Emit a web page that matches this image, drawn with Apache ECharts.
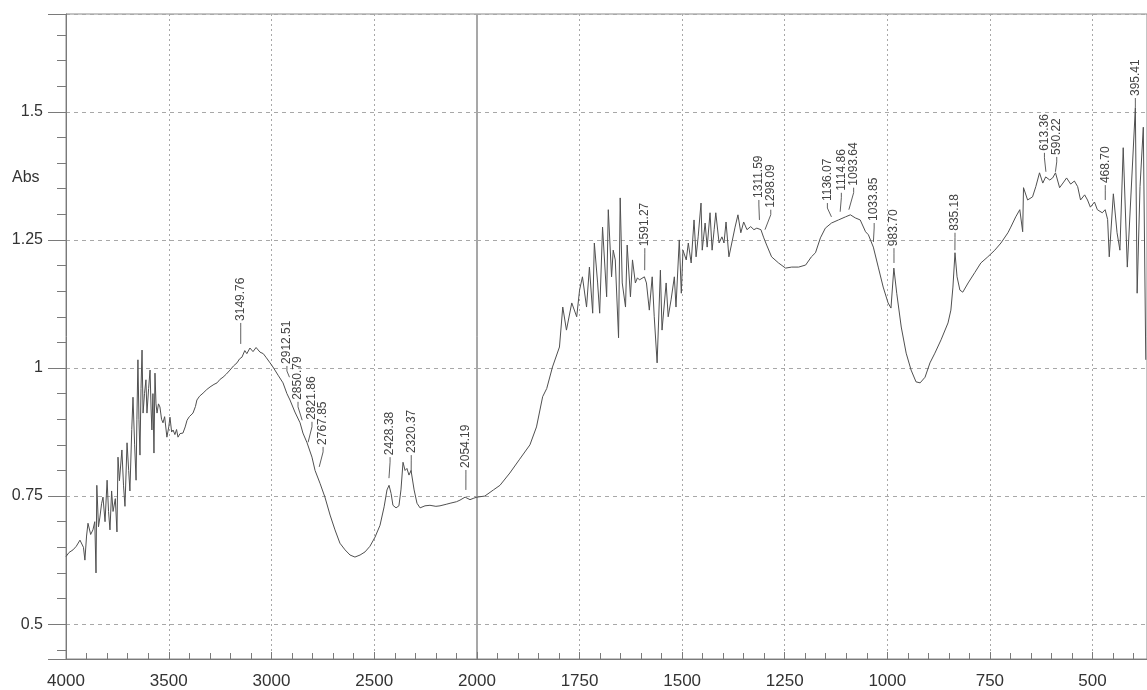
<!DOCTYPE html>
<html>
<head>
<meta charset="utf-8">
<script src="https://cdn.jsdelivr.net/npm/echarts@6/dist/echarts.min.js"></script>
<style>
html,body{margin:0;padding:0;background:#fff;}
#chart{width:1147px;height:690px;}
</style>
</head>
<body>
<div id="chart"></div>
<script>
// ---- Data ----
// High-wavenumber segment 4000 -> 2000 cm-1 (compressed half-scale)
const highWn = [4000,3997,3985,3966,3950,3932,3915,3908,3900,3893,3880,3869,3860,3854,3850,3842,3835,3827,3820,3810,3800,3793,3786,3778,3771,3760,3752,3747,3740,3728,3720,3713,3703,3695,3689,3680,3674,3666,3659,3655,3650,3645,3640,3635,3630,3625,3618,3611,3606,3598,3591,3586,3582,3577,3572,3567,3562,3557,3550,3543,3535,3528,3520,3509,3500,3494,3486,3479,3470,3462,3455,3445,3431,3420,3411,3400,3382,3370,3363,3350,3333,3315,3299,3280,3265,3250,3236,3220,3202,3185,3168,3155,3144,3130,3120,3105,3090,3075,3056,3040,3025,3007,2993,2968,2944,2925,2910,2886,2861,2847,2827,2803,2788,2764,2740,2715,2691,2667,2642,2618,2594,2569,2545,2521,2496,2472,2452,2438,2428,2418,2409,2394,2380,2370,2360,2350,2341,2331,2321,2306,2292,2277,2253,2229,2200,2180,2150,2131,2100,2083,2058,2034,2015,2000];
const highAbs = [0.632,0.631,0.640,0.645,0.652,0.664,0.650,0.625,0.672,0.697,0.675,0.684,0.700,0.600,0.771,0.690,0.709,0.735,0.748,0.700,0.781,0.720,0.684,0.760,0.720,0.745,0.680,0.826,0.780,0.840,0.770,0.730,0.854,0.800,0.760,0.880,0.943,0.850,0.781,0.900,1.016,0.900,0.830,0.960,1.035,0.912,0.950,0.977,0.912,0.960,0.996,0.920,0.879,0.950,0.834,0.990,0.930,0.912,0.930,0.924,0.900,0.893,0.905,0.865,0.885,0.904,0.875,0.879,0.870,0.880,0.865,0.872,0.873,0.885,0.898,0.905,0.912,0.925,0.9375,0.945,0.951,0.958,0.963,0.968,0.971,0.978,0.982,0.988,0.996,1.004,1.010,1.018,1.021,1.034,1.028,1.039,1.032,1.040,1.031,1.028,1.020,1.010,1.002,0.986,0.971,0.950,0.9375,0.914,0.893,0.873,0.854,0.826,0.800,0.775,0.748,0.713,0.684,0.658,0.645,0.635,0.631,0.635,0.641,0.652,0.670,0.693,0.729,0.762,0.771,0.755,0.732,0.727,0.731,0.762,0.816,0.800,0.804,0.791,0.800,0.762,0.736,0.727,0.731,0.732,0.730,0.731,0.734,0.736,0.739,0.742,0.748,0.743,0.746,0.748];

// Low-wavenumber segment 2000 -> ~370 cm-1 (full scale)
const lowWn = [2000,1981,1960,1944,1920,1896,1871,1855,1840,1830,1816,1799,1791,1782,1769,1757,1750,1743,1733,1726,1718,1714,1706,1701,1694,1684,1680,1672,1668,1663,1655,1651,1646,1638,1634,1626,1621,1614,1609,1604,1592,1587,1580,1573,1568,1561,1553,1549,1539,1534,1527,1519,1515,1507,1502,1498,1490,1485,1478,1471,1466,1461,1454,1451,1444,1439,1432,1427,1422,1418,1410,1403,1398,1393,1386,1379,1371,1364,1357,1350,1342,1333,1325,1318,1308,1301,1294,1282,1265,1248,1233,1216,1199,1185,1175,1163,1151,1136,1119,1102,1090,1078,1066,1053,1046,1034,1022,1010,998,991,984,977,966,954,942,930,920,908,896,884,869,852,845,840,835,830,823,816,803,787,772,755,738,723,706,699,687,677,670,668,658,646,638,629,621,614,604,597,590,580,570,563,553,544,536,529,519,512,505,495,488,476,469,463,459,449,440,433,425,415,395.4,391,384,376,370];
const lowAbs = [0.748,0.750,0.762,0.771,0.795,0.822,0.850,0.885,0.944,0.960,1.002,1.041,1.119,1.074,1.127,1.100,1.152,1.178,1.119,1.197,1.107,1.244,1.166,1.107,1.275,1.139,1.309,1.178,1.230,1.211,1.059,1.332,1.166,1.119,1.240,1.139,1.211,1.166,1.176,1.172,1.178,1.166,1.113,1.178,1.100,1.010,1.191,1.074,1.166,1.100,1.133,1.178,1.119,1.250,1.146,1.230,1.211,1.244,1.205,1.289,1.217,1.256,1.322,1.230,1.283,1.236,1.303,1.230,1.270,1.303,1.244,1.256,1.244,1.285,1.217,1.244,1.275,1.299,1.264,1.285,1.270,1.276,1.270,1.273,1.270,1.254,1.240,1.217,1.205,1.195,1.197,1.197,1.201,1.217,1.225,1.254,1.273,1.283,1.289,1.295,1.299,1.293,1.289,1.266,1.260,1.236,1.197,1.158,1.127,1.117,1.195,1.146,1.080,1.029,0.996,0.973,0.971,0.982,1.010,1.029,1.055,1.088,1.113,1.158,1.225,1.178,1.152,1.148,1.166,1.186,1.205,1.217,1.230,1.244,1.264,1.275,1.295,1.309,1.266,1.352,1.328,1.334,1.354,1.381,1.361,1.373,1.367,1.371,1.381,1.352,1.363,1.371,1.359,1.365,1.354,1.328,1.338,1.328,1.314,1.324,1.309,1.303,1.309,1.290,1.217,1.340,1.264,1.230,1.430,1.197,1.508,1.146,1.354,1.470,1.016];

// Peak annotations
const peakText = ['3149.76','2912.51','2850.79','2821.86','2767.85','2428.38','2320.37','2054.19','1591.27','1311.59','1298.09','1136.07','1114.86','1093.64','1033.85','983.70','835.18','613.36','590.22','468.70','395.41'];
const peakLabelWn = [3149.76,2925,2871,2803,2749,2423,2320,2054,1591,1313,1284,1146,1112,1082,1032,983.7,835,617,587,468.7,395.4];
const peakLabelAbs = [1.088,1.004,0.934,0.895,0.846,0.826,0.830,0.801,1.234,1.328,1.309,1.322,1.342,1.352,1.283,1.234,1.264,1.420,1.412,1.357,1.527];
const peakTipAbs = [1.047,0.982,0.898,0.855,0.807,0.785,0.795,0.762,1.191,1.289,1.270,1.295,1.305,1.309,1.246,1.205,1.230,1.383,1.383,1.328,1.508];

// ---- Build ----
const highData = highWn.map((w, i) => [w, highAbs[i]]);
const lowData = lowWn.map((w, i) => [w, lowAbs[i]]);
const peakHigh = [], peakLow = [];
peakText.forEach((t, i) => {
  const item = [parseFloat(t), peakLabelWn[i], peakLabelAbs[i], peakTipAbs[i], i];
  (parseFloat(t) >= 2000 ? peakHigh : peakLow).push(item);
});

const FONT = 'Liberation Sans, Arial, sans-serif';
const gridColor = '#a8a8a8';
const axisColor = '#7a7a7a';
const lineColor = '#505050';

function renderPeak(params, api) {
  const peak = api.value(0), lab = api.value(1), base = api.value(2), tip = api.value(3);
  const idx = api.value(4);
  const a = api.coord([lab, base]);
  const t = api.coord([peak, tip]);
  const mid = [a[0], Math.min(a[1] + 5, t[1])];
  return {
    type: 'group',
    children: [
      { type: 'polyline', shape: { points: [a, mid, t] },
        style: { stroke: '#606060', lineWidth: 1, fill: null } },
      { type: 'text', x: a[0], y: a[1] - 2, rotation: Math.PI / 2,
        style: { text: peakText[idx], fill: '#444', font: '12px ' + FONT,
                 align: 'left', verticalAlign: 'middle' } }
    ]
  };
}

const yMin = 0.432, yMax = 1.691;

function yAxisBase(grid, visible) {
  return {
    type: 'value', gridIndex: grid, min: yMin, max: yMax,
    minInterval: 0.25, maxInterval: 0.25, splitNumber: 5,
    axisLine: { show: visible, lineStyle: { color: axisColor } },
    axisTick: { show: visible, inside: false, length: 18, lineStyle: { color: axisColor } },
    minorTick: { show: visible, splitNumber: 5, length: 9, lineStyle: { color: axisColor } },
    axisLabel: { show: visible, margin: 23, fontSize: 16, color: '#333', fontFamily: FONT,
                 showMinLabel: false, showMaxLabel: false },
    splitLine: { show: true, lineStyle: { color: gridColor, type: [4, 4], width: 1 } }
  };
}

const option = {
  animation: false,
  backgroundColor: '#fff',
  grid: [
    { left: 66, top: 14, width: 411, bottom: 30, show: true, borderColor: '#8a8a8a', borderWidth: 1, backgroundColor: 'transparent' },
    { left: 477, top: 14, right: -3, bottom: 30, show: true, borderColor: '#8a8a8a', borderWidth: 1, backgroundColor: 'transparent' }
  ],
  graphic: [
    { type: 'text', left: 12, top: 170, style: { text: 'Abs', font: '16px ' + FONT, fill: '#333' } }
  ],
  xAxis: [
    {
      type: 'value', gridIndex: 0, inverse: true, min: 2000, max: 4000, interval: 500,
      axisLine: { show: true, lineStyle: { color: axisColor } },
      axisTick: { show: true, inside: true, length: 7, lineStyle: { color: axisColor } },
      minorTick: { show: true, splitNumber: 5, length: 6, lineStyle: { color: axisColor } },
      axisLabel: { margin: 14, fontSize: 17, color: '#333', fontFamily: FONT,
                   formatter: v => String(v) },
      splitLine: { show: true, lineStyle: { color: gridColor, type: [2, 3], width: 1 } }
    },
    {
      type: 'value', gridIndex: 1, inverse: true, min: 367, max: 2000,
      minInterval: 250, maxInterval: 250, splitNumber: 7,
      axisLine: { show: true, lineStyle: { color: axisColor } },
      axisTick: { show: true, inside: true, length: 7, lineStyle: { color: axisColor } },
      minorTick: { show: true, splitNumber: 5, length: 6, lineStyle: { color: axisColor } },
      axisLabel: { margin: 14, fontSize: 17, color: '#333', fontFamily: FONT,
                   showMinLabel: false, showMaxLabel: false,
                   formatter: v => (v === 2000 ? '' : String(v)) },
      splitLine: { show: true, lineStyle: { color: gridColor, type: [2, 3], width: 1 } }
    }
  ],
  yAxis: [yAxisBase(0, true), yAxisBase(1, false)],
  series: [
    { type: 'line', xAxisIndex: 0, yAxisIndex: 0, data: highData, showSymbol: false, symbol: 'none',
      lineStyle: { color: lineColor, width: 1 }, z: 3 },
    { type: 'line', xAxisIndex: 1, yAxisIndex: 1, data: lowData, showSymbol: false, symbol: 'none',
      lineStyle: { color: lineColor, width: 1 }, z: 3, clip: true },
    { type: 'custom', xAxisIndex: 0, yAxisIndex: 0, data: peakHigh, renderItem: renderPeak, clip: false, z: 4 },
    { type: 'custom', xAxisIndex: 1, yAxisIndex: 1, data: peakLow, renderItem: renderPeak, clip: false, z: 4 }
  ]
};

const chart = echarts.init(document.getElementById('chart'), null, { renderer: 'canvas' });
chart.setOption(option);
</script>
</body>
</html>
